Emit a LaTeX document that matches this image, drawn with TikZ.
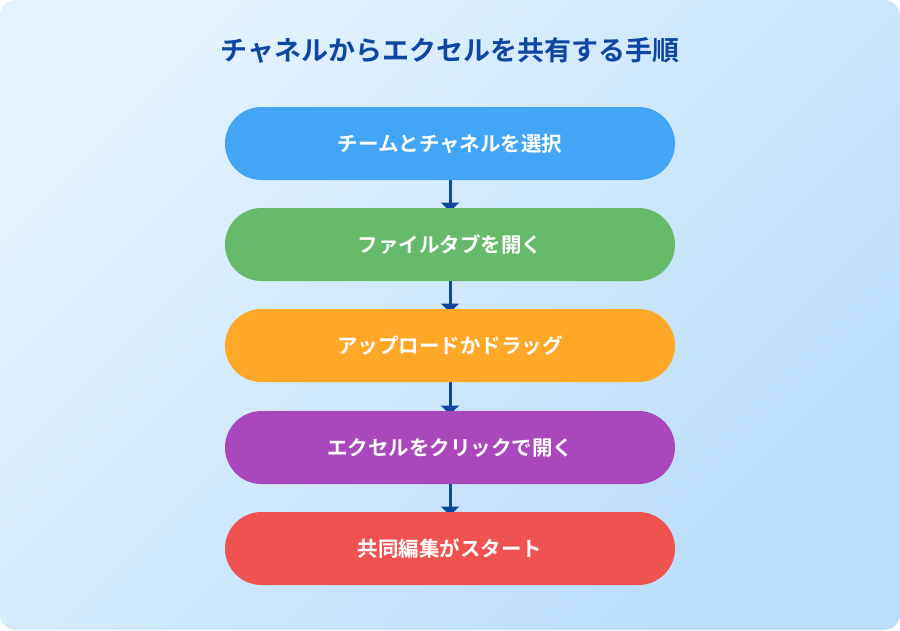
\documentclass[tikz,border=0pt]{standalone}
\usepackage{fontspec}
\newfontfamily\cjk{Noto Sans CJK JP}[BoldFont={* Bold}]
\usetikzlibrary{arrows.meta,shapes.misc}
\definecolor{bgA}{HTML}{E3F2FD}
\definecolor{bgB}{HTML}{BBDEFB}
\definecolor{titlec}{HTML}{0D47A1}
\definecolor{c1}{HTML}{42A5F5}
\definecolor{c2}{HTML}{66BB6A}
\definecolor{c3}{HTML}{FFA726}
\definecolor{c4}{HTML}{AB47BC}
\definecolor{c5}{HTML}{EF5350}
\tikzset{
  stepbox/.style={rounded rectangle, minimum width=450pt, minimum height=73pt, inner sep=0pt,
    text=white, font=\cjk\bfseries\fontsize{20.5pt}{23pt}\selectfont},
  flow/.style={draw=titlec, line width=3pt, -{Triangle[width=18pt,length=9pt]}}
}
\begin{document}
\begin{tikzpicture}[x=1pt,y=-1pt]
\useasboundingbox (0,0) rectangle (900,630);
\fill[white] (0,0) rectangle (900,630);
\shade[left color=bgA, right color=bgB, shading angle=45, rounded corners=16pt] (0,0) rectangle (900,630);
\node[text=titlec, font=\cjk\bfseries\fontsize{27pt}{30pt}\selectfont] (title) at (450,50) {チャネルからエクセルを共有する手順};
\coordinate (p1) at (450,143.5);
\coordinate (p2) at (450,244.5);
\coordinate (p3) at (450,345.5);
\coordinate (p4) at (450,447.5);
\coordinate (p5) at (450,548.5);
\draw[flow] (p1) -- ([yshift=33pt]p2);
\draw[flow] (p2) -- ([yshift=33pt]p3);
\draw[flow] (p3) -- ([yshift=33pt]p4);
\draw[flow] (p4) -- ([yshift=33pt]p5);
\node[stepbox, fill=c1] (s1) at (p1) {チームとチャネルを選択};
\node[stepbox, fill=c2] (s2) at (p2) {ファイルタブを開く};
\node[stepbox, fill=c3] (s3) at (p3) {アップロードかドラッグ};
\node[stepbox, fill=c4] (s4) at (p4) {エクセルをクリックで開く};
\node[stepbox, fill=c5] (s5) at (p5) {共同編集がスタート};
\end{tikzpicture}
\end{document}
